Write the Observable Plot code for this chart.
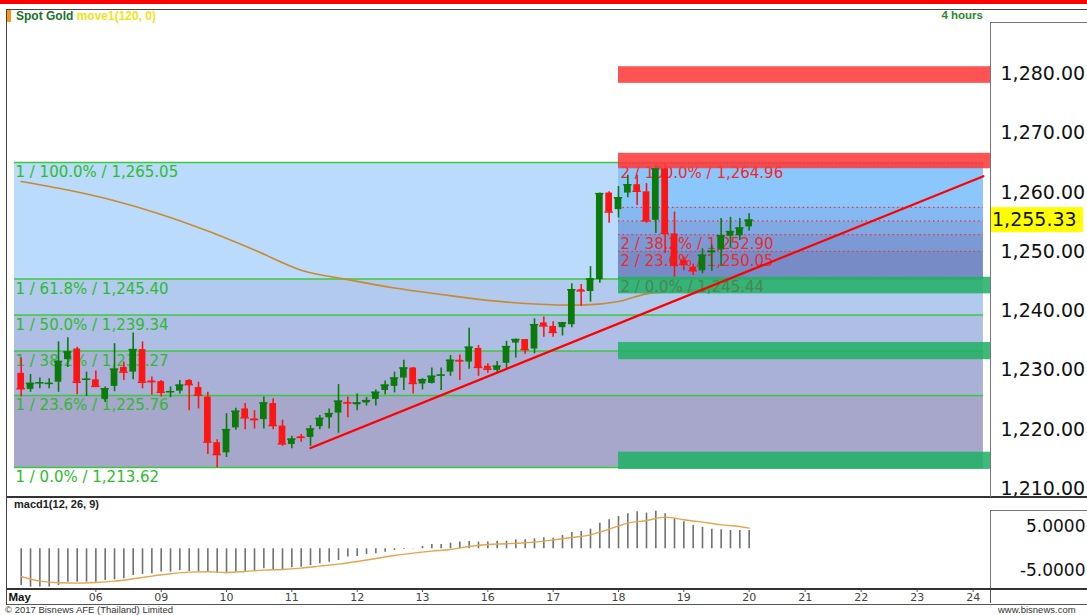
<!DOCTYPE html>
<html><head><meta charset="utf-8">
<script src="https://cdn.jsdelivr.net/npm/d3@7"></script>
<script src="https://cdn.jsdelivr.net/npm/@observablehq/plot@0.6"></script>
<style>
html,body{margin:0;padding:0;background:#fff}
body{width:1087px;height:615px;overflow:hidden;position:relative;font-family:"Liberation Sans",Arial,sans-serif}
.abs{position:absolute}
svg{overflow:visible}
</style></head><body>
<div class="abs" style="left:0;top:0;width:1087px;height:4px;background:#ff0000"></div>
<div id="main" class="abs" style="left:0;top:8px"></div>
<div id="macd" class="abs" style="left:0;top:496px"></div>
<div id="xaxis" class="abs" style="left:0;top:589px"></div>
<!-- frames -->
<div class="abs" style="left:6px;top:9px;width:1081px;height:486px;border-left:1px solid #444;border-top:1px solid #444;border-bottom:2px solid #333"></div>
<div class="abs" style="left:990px;top:22px;width:97px;height:474px;border-left:1px solid #777;border-top:1px solid #777"></div>
<div class="abs" style="left:6px;top:497px;width:1081px;height:92px;border-left:1px solid #444"></div>
<div class="abs" style="left:990px;top:510px;width:97px;height:79px;border-left:1px solid #777;border-top:1px solid #777"></div>
<div class="abs" style="left:6px;top:588px;width:1081px;height:14px;border-left:1px solid #444;border-top:2px solid #333;border-bottom:1px solid #555"></div>
<div class="abs" style="left:990px;top:590px;width:1px;height:13px;background:#555"></div>
<div class="abs" style="left:7px;top:10px;width:4px;height:12px;background:#f7941d"></div>
<div class="abs" style="left:16px;top:9px;font-size:12px;font-weight:bold;color:#17732b;white-space:nowrap">Spot Gold <span style="color:#f0e31a">move1(120, 0)</span></div>
<div class="abs" style="left:900px;width:83px;top:9px;font-size:11.5px;font-weight:bold;color:#2a8a2a;text-align:right">4 hours</div>
<div class="abs" style="left:14px;top:498px;font-size:11px;font-weight:bold;color:#222">macd1(12, 26, 9)</div>
<div class="abs" style="left:5px;top:604px;font-size:9.5px;color:#333;white-space:nowrap">© 2017 Bisnews AFE (Thailand) Limited</div>
<div class="abs" style="left:998px;top:604px;font-size:9.5px;color:#333;white-space:nowrap">www.bisnews.com</div>
<script>
// ---------------- data ----------------
const candleOpen = [1229.5,1226.8,1227.8,1227.7,1228.0,1231.8,1233.6,1228.3,1228.4,1225.1,
1227.3,1230.5,1229.7,1233.5,1228.2,1228.1,1226.3,1226.5,1228.3,1227.1,
1225.5,1217.8,1216.1,1220.3,1223.5,1221.8,1221.7,1224.4,1220.6,1217.5,
1218.8,1218.7,1220.5,1222.0,1222.8,1224.6,1224.2,1224.5,1225.1,1226.6,
1227.3,1228.7,1230.4,1227.7,1227.8,1229.1,1229.7,1231.7,1231.4,1233.7,
1230.7,1230.0,1231.2,1234.6,1235.2,1233.6,1238.0,1237.4,1237.2,1237.7,
1243.6,1243.3,1245.3,1259.9,1257.1,1259.9,1261.3,1260.1,1255.3,1264.0,
1253.0,1248.5,1247.4,1246.8,1249.8,1250.3,1252.6,1252.7,1254.2];
const candleHigh = [1232.1,1229.3,1228.7,1228.6,1234.8,1235.5,1233.9,1229.7,1229.9,1227.2,
1234.5,1231.4,1236.3,1234.8,1228.9,1228.3,1227.2,1228.3,1228.4,1228.0,
1226.3,1218.3,1222.7,1223.6,1224.4,1223.2,1225.5,1225.2,1221.6,1218.9,
1219.2,1220.7,1222.4,1223.5,1227.6,1225.5,1226.0,1225.4,1226.7,1228.2,
1229.7,1231.7,1230.5,1228.6,1230.4,1230.4,1232.5,1232.6,1237.1,1234.2,
1231.1,1231.5,1234.9,1235.3,1235.2,1238.7,1239.0,1238.2,1238.1,1244.6,
1244.5,1247.5,1259.9,1260.1,1261.0,1262.9,1262.9,1261.5,1264.5,1264.96,
1256.7,1249.1,1247.9,1250.5,1251.1,1255.6,1255.8,1255.6,1256.4];
const candleLow = [1225.5,1226.3,1226.9,1226.9,1226.3,1230.5,1225.9,1225.6,1227.2,1224.6,
1226.4,1228.3,1228.4,1226.9,1225.8,1225.5,1225.4,1226.0,1223.2,1223.5,
1215.8,1213.6,1215.3,1219.9,1220.0,1220.1,1220.1,1220.0,1217.2,1216.8,
1217.9,1217.2,1220.0,1220.1,1219.4,1222.0,1223.2,1224.0,1224.0,1225.9,
1226.2,1226.6,1226.0,1226.7,1227.7,1226.6,1229.0,1228.3,1230.2,1229.0,
1229.5,1229.7,1230.3,1232.1,1232.7,1232.8,1235.6,1235.6,1235.8,1237.2,
1240.8,1241.5,1244.7,1254.8,1255.7,1259.1,1257.8,1254.8,1253.1,1249.7,
1245.7,1246.8,1246.0,1246.3,1246.7,1247.5,1250.6,1251.9,1253.5];
const candleClose = [1226.9,1227.8,1227.9,1227.8,1231.5,1233.1,1228.0,1228.5,1227.3,1226.9,
1230.2,1229.7,1233.5,1228.0,1228.1,1226.3,1226.4,1227.5,1227.6,1225.8,
1217.9,1215.8,1220.0,1223.1,1222.0,1221.7,1224.5,1220.7,1217.6,1218.4,
1218.7,1220.1,1221.9,1222.7,1224.8,1224.5,1224.5,1224.9,1226.3,1227.5,
1228.7,1230.4,1227.8,1228.4,1229.0,1229.2,1231.7,1231.6,1233.9,1230.5,
1230.2,1230.7,1234.0,1235.2,1233.5,1237.7,1237.5,1236.4,1238.0,1243.6,
1243.4,1245.4,1259.8,1256.7,1259.1,1261.3,1260.2,1255.2,1264.0,1253.1,
1247.7,1247.9,1246.8,1249.4,1250.1,1252.7,1253.4,1254.0,1255.33];

// 120-period moving average (read at sample bars)
const maIndex = [0,5,10,15,20,25,30,35,40,45,50,55,60,64,67,70,74,78];
const maValue = [1261.85,1260.4,1258.6,1256.3,1253.5,1250.3,1246.9,1245.3,1243.9,1242.8,1241.8,1241.2,1241.0,1241.6,1242.9,1243.3,1243.7,1244.0];

// MACD histogram (one per bar) and signal line (sampled)
const macdHist = [-8.33,-8.71,-8.71,-8.71,-8.33,-7.58,-7.58,-7.58,-7.58,-7.20,
-7.05,-6.82,-6.06,-5.83,-5.68,-5.30,-5.30,-4.92,-5.15,-5.30,
-5.30,-5.53,-5.68,-5.30,-5.15,-5.15,-4.55,-4.92,-4.70,-4.32,
-4.17,-3.79,-3.41,-3.03,-2.65,-1.89,-1.74,-1.29,-1.14,-0.76,
-0.38,-0.15,0.05,0.53,0.98,0.98,1.29,1.52,1.67,1.52,
1.52,1.74,1.74,2.05,2.05,2.27,2.50,2.42,3.03,3.71,
3.94,4.47,5.83,6.59,7.35,7.95,8.41,8.11,8.56,7.95,
6.89,6.14,5.30,4.85,4.47,4.32,4.17,4.17,4.17];
const signalIndex = [0,2,4,6,8,10,12,14,16,18,20,22,24,26,28,30,32,34,36,38,40,42,44,46,48,50,52,54,56,57,59,61,63,65,67,69,71,73,75,77,78];
const signalValue = [-6.29,-7.35,-7.73,-7.80,-7.65,-7.35,-6.82,-6.21,-5.68,-5.30,-5.23,-5.38,-5.15,-4.85,-4.70,-4.39,-3.94,-3.48,-2.88,-2.20,-1.52,-0.98,-0.53,-0.15,0.53,0.98,1.14,1.36,1.74,2.0,2.58,3.18,4.47,5.83,6.44,7.20,6.59,6.06,5.45,5.08,4.70];

// axes
const priceTicks = [1210,1220,1230,1240,1250,1260,1270,1280];
const macdTicks = [5,-5];
const dayLabels = ["06","09","10","11","12","13","16","17","18","19","20","21","22","23","24"];
const dayIndex = [8,15,22,29,36,43,50,57,64,71,78,84,90,96,102];
const monthLabel = "May";
const lastPrice = 1255.33;

// Fibonacci retracements
const fib1Levels = [1265.05,1245.40,1239.34,1233.27,1225.76,1213.62];
const fib1Pct = ["100.0%","61.8%","50.0%","38.2%","23.6%","0.0%"];
const fib2Levels = [1264.96,1257.50,1255.20,1252.90,1250.05,1245.44];
const fib2Pct = ["100.0%","61.8%","50.0%","38.2%","23.6%","0.0%"];
const fib2Shown = [true,false,false,true,true,true];
const fib1Start = -0.72, fib2Start = 64, drawEnd = 103.1;

// support / resistance zones
const zoneLow = [1278.4,1264.0,1242.9,1231.8,1213.3];
const zoneHigh = [1281.2,1266.6,1245.7,1234.7,1216.2];
const zoneKind = ["res","res","sup","sup","sup"];

// trend line
const trendIndex = [31.0,103.1];
const trendPrice = [1216.9,1262.75];

// ---------------- build ----------------
const xDomain = [-1.468, 103.86];
const GREEN = "#0b7a0b", RED = "#ff1414";
const fmt2 = d3.format(",.2f");

const candles = candleOpen.map((o,i)=>({i, o, h:candleHigh[i], l:candleLow[i], c:candleClose[i], up:candleClose[i]>=o}));
const ma = maIndex.map((i,k)=>({i, v:maValue[k]}));
const fib1Bands = fib1Levels.slice(0,-1).map((v,k)=>({k, top:v, bot:fib1Levels[k+1]}));
const fib2Bands = fib2Levels.slice(0,-1).map((v,k)=>({k, top:v, bot:fib2Levels[k+1]}));
const fib1Colors = ["#badbfb","#b2caee","#aebee4","#aab1d9","#a7a6cb"];
const fib2Colors = ["#8bc6fc","#86b8f1","#80a8e3","#7b99d5","#778bc7"];
const fib1Lab = fib1Levels.map((v,k)=>({v, t:`1 / ${fib1Pct[k]} / ${fmt2(v)}`}));
const fib2Lab = fib2Levels.map((v,k)=>({v, k, t:`2 / ${fib2Pct[k]} / ${fmt2(v)}`})).filter(d=>fib2Shown[d.k]);
const zones = zoneLow.map((lo,k)=>({lo, hi:zoneHigh[k], kind:zoneKind[k]}));
const trend = trendIndex.map((i,k)=>({i, p:trendPrice[k]}));

const main = Plot.plot({
  width:1087, height:488, marginTop:15, marginBottom:1, marginLeft:7, marginRight:97,
  x:{domain:xDomain, axis:null},
  y:{domain:[1208.90,1288.49], axis:null},
  color:{type:"identity"},
  style:{background:"transparent", overflow:"visible"},
  marks:[
    Plot.rect(fib1Bands, {x1:()=>fib1Start, x2:()=>drawEnd, y1:"bot", y2:"top", fill:d=>fib1Colors[d.k]}),
    Plot.ruleY(fib1Levels, {y:d=>d, x1:()=>fib1Start, x2:()=>drawEnd, stroke:"#3cc63c", strokeWidth:1.6}),
    Plot.rect(fib2Bands, {x1:()=>fib2Start, x2:()=>drawEnd, y1:"bot", y2:"top", fill:d=>fib2Colors[d.k]}),
    Plot.ruleY(fib2Levels.slice(1), {y:d=>d, x1:()=>fib2Start, x2:()=>drawEnd, stroke:"#e83a3a", strokeWidth:1.3, strokeDasharray:"1.5,3"}),
    Plot.ruleY([fib2Levels[0]], {y:d=>d, x1:()=>fib2Start, x2:()=>drawEnd, stroke:"#a83030", strokeWidth:1.3, strokeDasharray:"1.5,2"}),
    Plot.text(fib1Lab, {x:()=>fib1Start, y:"v", text:"t", textAnchor:"start", lineAnchor:"top", dx:1, dy:4, fill:"#2dbb2d", fontSize:15, fontFamily:"DejaVu Sans"}),
    Plot.text(fib2Lab.filter(d=>d.k<5), {x:()=>fib2Start, y:"v", text:"t", textAnchor:"start", lineAnchor:"top", dx:2, dy:4, fill:"#ee2a2a", fontSize:15, fontFamily:"DejaVu Sans"}),
    Plot.line(ma, {x:"i", y:"v", stroke:"#c98a2e", strokeWidth:1.6, curve:"monotone-x"}),
    Plot.ruleX(candles, {x:"i", y1:"l", y2:"h", stroke:d=>d.up?GREEN:RED, strokeWidth:1.6}),
    Plot.rect(candles, {x1:d=>d.i-0.36, x2:d=>d.i+0.36, y1:d=>Math.min(d.o,d.c), y2:d=>Math.max(d.o,d.c), fill:d=>d.up?GREEN:RED}),
    Plot.ruleY(candles, {y:"c", x1:d=>d.i-0.45, x2:d=>d.i+0.45, stroke:d=>d.up?GREEN:RED, strokeWidth:1.5}),
    Plot.rect(zones, {x1:()=>fib2Start, x2:()=>xDomain[1], y1:"lo", y2:"hi", fill:d=>d.kind==="res"?"#ff3a3a":"#22b066", fillOpacity:0.87}),
    Plot.text(fib2Lab.filter(d=>d.k===5), {x:()=>fib2Start, y:"v", text:"t", textAnchor:"start", lineAnchor:"top", dx:2, dy:3, fill:"#4b8552", fontSize:15, fontFamily:"DejaVu Sans"}),
    Plot.line(trend, {x:"i", y:"p", stroke:"#ff0000", strokeWidth:2.2}),
    Plot.text(priceTicks, {y:d=>d, frameAnchor:"right", dx:10, textAnchor:"start", text:d=>fmt2(d), fill:"#111", fontSize:19, fontFamily:"DejaVu Sans"}),
    (index, scales, values, dimensions) => {
      const y = scales.y(lastPrice);
      const x0 = dimensions.width - dimensions.marginRight;
      const g = d3.create("svg:g");
      g.append("rect").attr("x", x0+1).attr("y", y-12.5).attr("width", 92).attr("height", 25).attr("fill", "#ffff00");
      g.append("text").attr("x", x0+2).attr("y", y).attr("dy", "0.35em").attr("text-anchor", "start")
        .attr("font-family", "DejaVu Sans").attr("font-size", 19).attr("fill", "#111").text(fmt2(lastPrice));
      return g.node();
    }
  ]
});
document.getElementById("main").appendChild(main);

const hist = macdHist.map((v,i)=>({i, v}));
const signal = signalIndex.map((i,k)=>({i, v:signalValue[k]}));
const macd = Plot.plot({
  width:1087, height:93, marginTop:1, marginBottom:0, marginLeft:7, marginRight:97,
  x:{domain:xDomain, axis:null},
  y:{domain:[-9.25,11.66], axis:null},
  style:{background:"transparent", overflow:"visible"},
  marks:[
    Plot.ruleX(hist, {x:"i", y1:()=>0, y2:"v", stroke:"#707070", strokeWidth:1.6}),
    Plot.line(signal, {x:"i", y:"v", stroke:"#e8a34c", strokeWidth:1.4, curve:"monotone-x"}),
    Plot.text(macdTicks, {y:d=>d, frameAnchor:"right", dx:95, textAnchor:"end", text:d=>d.toFixed(4), fill:"#111", fontSize:17, fontFamily:"DejaVu Sans"})
  ]
});
document.getElementById("macd").appendChild(macd);

const days = dayIndex.map((i,k)=>({i, t:dayLabels[k]}));
const xax = Plot.plot({
  width:1087, height:14, marginTop:0, marginBottom:0, marginLeft:7, marginRight:97,
  x:{domain:xDomain, axis:null},
  style:{background:"transparent", overflow:"visible"},
  marks:[
    Plot.ruleX(days, {x:"i", insetBottom:11, stroke:"#555"}),
    Plot.text(days, {x:"i", text:"t", frameAnchor:"middle", dy:1, fill:"#444", fontSize:11, fontFamily:"DejaVu Sans"}),
    Plot.text([monthLabel], {x:()=>xDomain[0], text:d=>d, frameAnchor:"middle", textAnchor:"start", dx:1, dy:1, fill:"#111", fontWeight:"bold", fontSize:11.5, fontFamily:"Liberation Sans"})
  ]
});
document.getElementById("xaxis").appendChild(xax);
</script>
</body></html>
